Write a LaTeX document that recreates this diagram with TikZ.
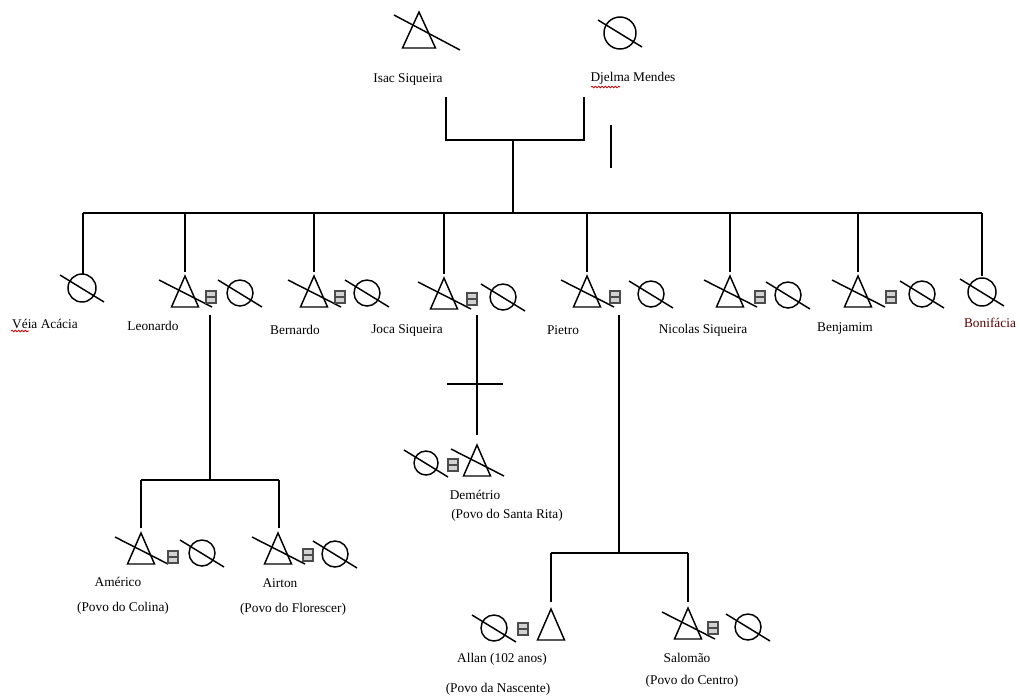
\documentclass[tikz,border=0pt]{standalone}
\usepackage{fontspec}
\setmainfont{Liberation Serif}
\usetikzlibrary{decorations.pathmorphing}
\tikzset{
  sym/.style={line width=1.1pt, line join=miter},
  link/.style={line width=1.2pt},
  lbl/.style={font=\fontsize{10}{12}\selectfont, inner sep=0pt, anchor=center},
  spell/.style={red!80!black, line width=0.6pt, decorate, decoration={snake, amplitude=0.6pt, segment length=2.5pt}},
}
% male: name, x, apex y, slashed(1/0)
\newcommand{\Male}[4]{%
  \coordinate (#1) at (#2,#3);
  \draw[sym] (#2,#3) -- (#2-13.5,#3+31) -- (#2+13.5,#3+31) -- cycle;
  \ifnum#4=1 \draw[sym] (#2-26,#3+4) -- (#2+27,#3+31);\fi
}
% female: name, cx, cy, r
\newcommand{\Female}[4]{%
  \coordinate (#1) at (#2,#3);
  \draw[sym] (#2,#3) circle[radius=#4];
  \draw[sym] (#2-22,#3-13) -- (#2+22,#3+14);
}
% marriage box: cx, cy
\newcommand{\Wed}[2]{%
  \filldraw[fill=gray!35, draw=gray!60!black, line width=1.2pt] (#1-5,#2-6) rectangle (#1+5,#2+6);
  \draw[gray!60!black, line width=1.2pt] (#1-5,#2) -- (#1+5,#2);
}
\begin{document}
\begin{tikzpicture}[x=0.75pt,y=-0.75pt]
\useasboundingbox (0,0) rectangle (1020,697);
\fill[white] (0,0) rectangle (1020,697);

% ---------- top generation ----------
\coordinate (isac) at (419,12);
\draw[sym] (isac) -- (402.5,48) -- (435.5,48) -- cycle;
\draw[sym] (394,15) -- (460,50);
\Female{djelma}{620}{33}{16}
\node[lbl] (isacL) at (408,80) {Isac Siqueira};
\node[lbl] (djelmaL) at (633,78) {Djelma Mendes};
\draw[spell] (591,87) -- (620,87);

\coordinate (pL) at (446,97);
\coordinate (pR) at (584,97);
\coordinate (pM) at (513,140);
\draw[link] (pL) |- (pM) -| (pR);
\coordinate (bar) at (513,213);
\draw[link] (pM) -- (bar);
\coordinate (s1) at (611,125);
\coordinate (s2) at (611,168);
\draw[link] (s1) -- (s2);

% main sibling bar
\coordinate (barL) at (83,213);
\coordinate (barR) at (982,213);
\draw[link] (barL) -- (barR);

% ---------- children ----------
\Female{veia}{82}{288}{14}
\node[lbl] (veiaL) at (45,324) {Véia Acácia};
\draw[spell] (11,331) -- (29,331);

\Male{leo}{185}{276}{1}
\Wed{211}{297}
\Female{leoW}{240}{293}{13}
\node[lbl] (leoL) at (153,326) {Leonardo};

\Male{ber}{314}{276}{1}
\Wed{340}{297}
\Female{berW}{367}{293}{13}
\node[lbl] (berL) at (295,330) {Bernardo};

\Male{joca}{444}{278}{1}
\Wed{472}{299}
\Female{jocaW}{503}{297}{13}
\node[lbl] (jocaL) at (407,330) {Joca Siqueira};

\Male{pie}{587}{276}{1}
\Wed{615}{297}
\Female{pieW}{651}{294}{13}
\node[lbl] (pieL) at (563,330) {Pietro};

\Male{nic}{730}{276}{1}
\Wed{760}{297}
\Female{nicW}{788}{295}{13}
\node[lbl] (nicL) at (703,330) {Nicolas Siqueira};

\Male{ben}{858}{276}{1}
\Wed{891}{297}
\Female{benW}{922}{294}{13}
\node[lbl] (benL) at (845,328) {Benjamim};

\Female{bon}{982}{292}{14}
\node[lbl, text=red!35!black] (bonL) at (990,323) {Bonifácia};

% drops from sibling bar
\foreach \x/\y in {83/274,185/272,314/272,444/274,587/272,730/272,858/272,982/276}{
  \draw[link] (\x,213) -- (\x,\y);
}

% ---------- Leonardo's children ----------
\coordinate (leoD1) at (210,315);
\coordinate (leoD2) at (210,480);
\draw[link] (leoD1) -- (leoD2);
\coordinate (leoBL) at (141,480);
\coordinate (leoBR) at (279,480);
\draw[link] (leoBL) -- (leoBR);
\draw[link] (leoBL) -- (141,528);
\draw[link] (leoBR) -- (279,528);

\Male{ame}{141}{533}{1}
\Wed{173}{557}
\Female{ameW}{202}{553}{13}
\node[lbl] (ameL) at (118,582) {Américo};
\node[lbl] (ameP) at (123,608) {(Povo do Colina)};

\Male{air}{278}{533}{1}
\Wed{308}{555}
\Female{airW}{335}{554}{13}
\node[lbl] (airL) at (280,583) {Airton};
\node[lbl] (airP) at (293,609) {(Povo do Florescer)};

% ---------- Joca's child ----------
\coordinate (jocaD1) at (477,315);
\coordinate (jocaD2) at (477,435);
\draw[link] (jocaD1) -- (jocaD2);
\coordinate (crA) at (447,384);
\coordinate (crB) at (503,384);
\draw[link] (crA) -- (crB);

\Male{dem}{477}{445}{1}
\Wed{453}{465}
\Female{demW}{426}{463}{12}
\node[lbl] (demL) at (475,495) {Demétrio};
\node[lbl] (demP) at (507,515) {(Povo do Santa Rita)};

% ---------- Pietro's children ----------
\coordinate (pieD1) at (619,315);
\coordinate (pieD2) at (619,553);
\draw[link] (pieD1) -- (pieD2);
\coordinate (pieBL) at (551,553);
\coordinate (pieBR) at (688,553);
\draw[link] (pieBL) -- (pieBR);
\draw[link] (pieBL) -- (551,602);
\draw[link] (pieBR) -- (688,602);

\Male{allan}{551}{609}{0}
\Wed{523}{629}
\Female{allanW}{494}{628}{13}
\node[lbl] (allanL) at (502,659) {Allan (102 anos)};
\node[lbl] (allanP) at (498,689) {(Povo da Nascente)};

\Male{sal}{688}{608}{1}
\Wed{713}{628}
\Female{salW}{748}{627}{13}
\node[lbl] (salL) at (687,658) {Salomão};
\node[lbl] (salP) at (692,681) {(Povo do Centro)};
\end{tikzpicture}
\end{document}
